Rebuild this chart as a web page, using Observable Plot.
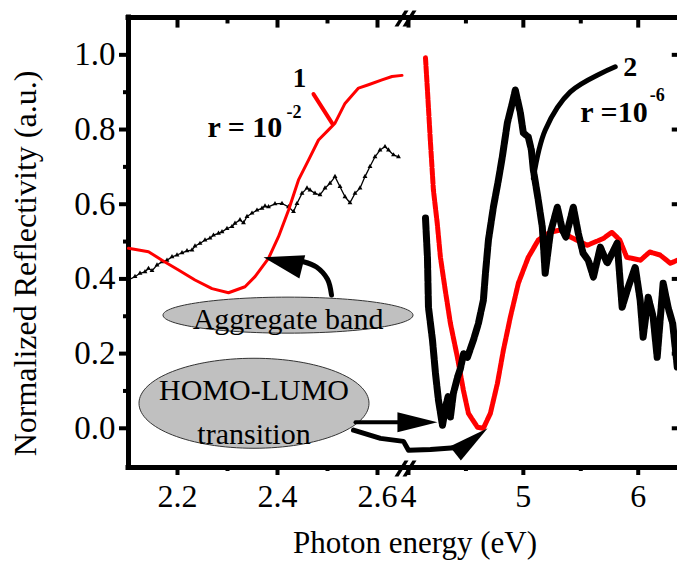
<!DOCTYPE html>
<html>
<head>
<meta charset="utf-8">
<script src="https://cdn.jsdelivr.net/npm/d3@7"></script>
<script src="https://cdn.jsdelivr.net/npm/@observablehq/plot@0.6"></script>
<style>
  html, body { margin: 0; padding: 0; background: #fff; }
  #chart svg { display: block; }
</style>
</head>
<body>
<div id="chart"></div>
<script>
// Normalized reflectivity spectra, curve 1 (r = 10^-2, red) and curve 2 (r = 10^-6, black),
// visible window (2.1–2.65 eV) and UV window (4–6.35 eV) on a broken energy axis.

// Visible window, curve 1 (red)
const visEnergy1 = [2.102, 2.142, 2.169, 2.202, 2.235, 2.269, 2.302, 2.335, 2.355, 2.382, 2.402, 2.422, 2.442, 2.462, 2.482, 2.502, 2.515, 2.535, 2.562, 2.582, 2.609, 2.629, 2.649];
const visRefl1   = [0.482, 0.473, 0.450, 0.424, 0.397, 0.374, 0.363, 0.379, 0.406, 0.455, 0.513, 0.584, 0.665, 0.718, 0.772, 0.799, 0.817, 0.870, 0.911, 0.920, 0.933, 0.942, 0.945];

// Visible window, curve 2 (black)
const visEnergy2 = [2.102, 2.115, 2.125, 2.135, 2.142, 2.149, 2.159, 2.169, 2.179, 2.189, 2.199, 2.209, 2.219, 2.229, 2.235, 2.245, 2.255, 2.265, 2.272, 2.282, 2.289, 2.299, 2.309, 2.315, 2.325, 2.332, 2.339, 2.349, 2.359, 2.369, 2.375, 2.382, 2.395, 2.409, 2.422, 2.432, 2.439, 2.449, 2.459, 2.465, 2.475, 2.485, 2.495, 2.505, 2.515, 2.525, 2.535, 2.545, 2.555, 2.565, 2.575, 2.585, 2.595, 2.605, 2.615, 2.622, 2.632, 2.642];
const visRefl2   = [0.397, 0.406, 0.415, 0.419, 0.428, 0.422, 0.437, 0.446, 0.450, 0.459, 0.464, 0.470, 0.475, 0.477, 0.488, 0.495, 0.504, 0.509, 0.517, 0.522, 0.526, 0.535, 0.540, 0.549, 0.558, 0.550, 0.567, 0.576, 0.584, 0.589, 0.595, 0.593, 0.601, 0.602, 0.593, 0.580, 0.602, 0.629, 0.643, 0.638, 0.629, 0.625, 0.643, 0.656, 0.674, 0.647, 0.620, 0.604, 0.629, 0.643, 0.674, 0.701, 0.727, 0.745, 0.754, 0.745, 0.732, 0.727];

// UV window, curve 1 (red)
const uvEnergy1 = [4.148, 4.165, 4.190, 4.217, 4.250, 4.278, 4.320, 4.365, 4.426, 4.478, 4.522, 4.600, 4.652, 4.713, 4.774, 4.826, 4.887, 4.957, 5.043, 5.130, 5.230, 5.320, 5.410, 5.557, 5.700, 5.770, 5.840, 5.900, 6.020, 6.100, 6.190, 6.280, 6.340];
const uvRefl1   = [0.992, 0.906, 0.772, 0.638, 0.550, 0.458, 0.370, 0.281, 0.190, 0.102, 0.040, 0.003, 0.000, 0.040, 0.120, 0.209, 0.298, 0.389, 0.458, 0.504, 0.525, 0.531, 0.512, 0.490, 0.509, 0.525, 0.504, 0.458, 0.450, 0.472, 0.464, 0.442, 0.450];

// UV window, curve 2 (black)
const uvEnergy2 = [4.148, 4.165, 4.174, 4.209, 4.235, 4.261, 4.296, 4.325, 4.345, 4.365, 4.391, 4.430, 4.452, 4.480, 4.513, 4.565, 4.609, 4.652, 4.670, 4.696, 4.739, 4.783, 4.817, 4.861, 4.904, 4.930, 4.974, 5.000, 5.043, 5.070, 5.087, 5.130, 5.165, 5.190, 5.235, 5.296, 5.340, 5.370, 5.435, 5.478, 5.520, 5.565, 5.610, 5.670, 5.730, 5.817, 5.860, 5.913, 5.974, 6.017, 6.043, 6.087, 6.130, 6.165, 6.217, 6.260, 6.300, 6.340];
const uvRefl2   = [0.563, 0.458, 0.324, 0.236, 0.147, 0.075, 0.008, 0.060, 0.085, 0.030, 0.094, 0.140, 0.160, 0.200, 0.190, 0.236, 0.281, 0.343, 0.415, 0.504, 0.592, 0.665, 0.727, 0.818, 0.871, 0.906, 0.845, 0.791, 0.780, 0.745, 0.692, 0.611, 0.539, 0.415, 0.523, 0.592, 0.531, 0.512, 0.592, 0.523, 0.469, 0.450, 0.405, 0.485, 0.442, 0.496, 0.324, 0.378, 0.432, 0.343, 0.244, 0.351, 0.298, 0.190, 0.389, 0.324, 0.281, 0.164];

// Axis extents and ticks
const xVisDomain = [2.102, 2.656];
const xUvDomain = [3.974, 6.342];
const yDomain = [-0.105, 1.10];
const xMajorTicks = [2.2, 2.4, 2.6, 4, 5, 6];
const xMinorTicks = [2.3, 2.5, 4.5, 5.5];
const yMajorTicks = [0, 0.2, 0.4, 0.6, 0.8, 1.0];
const yMinorTicks = [0.1, 0.3, 0.5, 0.7, 0.9];

// Annotation anchors (energy, reflectivity)
const bubbles = [
  {e: 2.421, v: 0.303, text: "Aggregate band", tv: 0.303},
  {e: 2.353, v: 0.067, text: "HOMO-LUMO\ntransition", tv: 0.054}
];
const aggregateArrow = [[2.508, 0.357], [2.500, 0.399], [2.478, 0.432], [2.452, 0.446]];
const aggregateTip = [[2.372, 0.458]];
const straightArrow = [[2.556, 0.016], [2.646, 0.016]];
const straightTip = [[4.252, 0.016]];
const jogArrow = [[2.552, -0.005], [2.606, -0.027], [2.652, -0.035], [4.000, -0.059], [4.191, -0.057], [4.400, -0.052]];
const jogTip = [[4.689, 0.000]];
const leader1 = [[2.472, 0.895], [2.510, 0.815]];
const leader2 = [[5.087, 0.670], [5.191, 0.799], [5.409, 0.901], [5.800, 0.968]];

const rows = (E, R) => E.map((e, i) => ({e, v: R[i]}));
const pts = (P) => P.map(([e, v]) => ({e, v}));

// Inward tick lengths on the top and right edges, in data units
const topTickMajor = 0.027, topTickMinor = 0.016;  // reflectivity units (~10 px / ~6 px)
const rightTick = 0.05;                             // eV in the UV window (~6 px)

// Custom symbols: filled ellipse, filled arrowhead (tip at origin), axis-break strokes
function ellipseSymbol(rx, ry) {
  const k = 0.5523;
  return {draw(ctx) {
    ctx.moveTo(rx, 0);
    ctx.bezierCurveTo(rx, ry * k, rx * k, ry, 0, ry);
    ctx.bezierCurveTo(-rx * k, ry, -rx, ry * k, -rx, 0);
    ctx.bezierCurveTo(-rx, -ry * k, -rx * k, -ry, 0, -ry);
    ctx.bezierCurveTo(rx * k, -ry, rx, -ry * k, rx, 0);
    ctx.closePath();
  }};
}
function arrowHead(len, half, angleDeg) {
  const a = angleDeg * Math.PI / 180, c = Math.cos(a), s = Math.sin(a);
  const p = (x, y) => [x * c - y * s, x * s + y * c];
  return {draw(ctx) {
    ctx.moveTo(...p(0, 0));
    ctx.lineTo(...p(-len, -half));
    ctx.lineTo(...p(-len, half));
    ctx.closePath();
  }};
}
const breakSymbol = {draw(ctx) {
  for (const ox of [-4, 4]) {
    ctx.moveTo(ox - 7, 8);
    ctx.lineTo(ox - 3, 8);
    ctx.lineTo(ox + 7, -8);
    ctx.lineTo(ox + 3, -8);
    ctx.closePath();
  }
}};

const serif = "'Liberation Serif', 'Times New Roman', serif";

const chart = Plot.plot({
  width: 677,
  height: 563,
  marginLeft: 128,
  marginRight: 0,
  marginTop: 17,
  marginBottom: 96,
  style: {fontFamily: serif, background: "#fff", color: "#000", overflow: "visible"},
  x: {type: "linear", domain: [xVisDomain[0], xVisDomain[1], xUvDomain[0], xUvDomain[1]], range: [128, 405, 405, 677], label: null},
  y: {domain: yDomain, label: null},
  marks: [
    // frame
    Plot.ruleX([xVisDomain[0]], {strokeWidth: 5, strokeLinecap: "square"}),
    Plot.ruleY([yDomain[1]], {strokeWidth: 5, strokeLinecap: "square"}),
    Plot.ruleY([yDomain[0]], {strokeWidth: 5, strokeLinecap: "square"}),

    // outward ticks with labels
    Plot.axisY(yMajorTicks, {anchor: "left", tickSize: 9, tickPadding: 4, strokeWidth: 4, fontSize: 33, tickFormat: d => d.toFixed(1), label: null}),
    Plot.axisY(yMinorTicks, {anchor: "left", tickSize: 5, strokeWidth: 4, tickFormat: () => "", label: null}),
    Plot.axisX(xMajorTicks, {anchor: "bottom", tickSize: 8, tickPadding: 9, strokeWidth: 4, fontSize: 32, tickFormat: d => d < 3 ? d.toFixed(1) : String(d), label: null}),
    Plot.axisX(xMinorTicks, {anchor: "bottom", tickSize: 4, strokeWidth: 4, tickFormat: () => "", label: null}),

    // inward ticks on the top and right edges
    Plot.link(xMajorTicks, {x1: d => d, x2: d => d, y1: () => yDomain[1], y2: () => yDomain[1] - topTickMajor, stroke: "#000", strokeWidth: 4}),
    Plot.link(xMinorTicks, {x1: d => d, x2: d => d, y1: () => yDomain[1], y2: () => yDomain[1] - topTickMinor, stroke: "#000", strokeWidth: 4}),
    Plot.link(yMajorTicks, {x1: () => xUvDomain[1] - rightTick, x2: () => xUvDomain[1], y1: d => d, y2: d => d, stroke: "#000", strokeWidth: 4}),

    // axis break
    Plot.dot([{e: xVisDomain[1], v: yDomain[1]}, {e: xVisDomain[1], v: yDomain[0]}], {x: "e", y: "v", symbol: breakSymbol, fill: "#000", stroke: "none", dy: 1}),

    // spectra
    Plot.line(rows(visEnergy2, visRefl2), {x: "e", y: "v", stroke: "#000", strokeWidth: 1.3}),
    Plot.dot(rows(visEnergy2, visRefl2), {x: "e", y: "v", symbol: "triangle", r: 1.8, fill: "#000", stroke: "none"}),
    Plot.line(rows(visEnergy1, visRefl1), {x: "e", y: "v", stroke: "#ff0000", strokeWidth: 3}),
    Plot.line(rows(uvEnergy1, uvRefl1), {x: "e", y: "v", stroke: "#ff0000", strokeWidth: 5, strokeDasharray: "7,1.5"}),
    Plot.line(rows(uvEnergy2, uvRefl2), {x: "e", y: "v", stroke: "#000", strokeWidth: 7, strokeDasharray: "11,2"}),

    // labelled bubbles
    Plot.dot([bubbles[0]], {x: "e", y: "v", symbol: ellipseSymbol(125, 18), fill: "#c0c0c0", stroke: "#333", strokeWidth: 1}),
    Plot.dot([bubbles[1]], {x: "e", y: "v", symbol: ellipseSymbol(115, 45), fill: "#c0c0c0", stroke: "#333", strokeWidth: 1}),
    Plot.text(bubbles, {x: "e", y: "tv", text: "text", fontSize: 30, lineHeight: 1.45, fill: "#000"}),

    // arrows
    Plot.line(pts(aggregateArrow), {x: "e", y: "v", stroke: "#000", strokeWidth: 5, curve: "catmull-rom"}),
    Plot.dot(pts(aggregateTip), {x: "e", y: "v", symbol: arrowHead(40, 12, 194), fill: "#000", stroke: "none"}),
    Plot.line(pts(straightArrow), {x: "e", y: "v", stroke: "#000", strokeWidth: 4}),
    Plot.dot(pts(straightTip), {x: "e", y: "v", symbol: arrowHead(40, 10, 0), fill: "#000", stroke: "none"}),
    Plot.line(pts(jogArrow), {x: "e", y: "v", stroke: "#000", strokeWidth: 5}),
    Plot.dot(pts(jogTip), {x: "e", y: "v", symbol: arrowHead(41, 9, -38), fill: "#000", stroke: "none"}),

    // curve labels
    Plot.line(pts(leader1), {x: "e", y: "v", stroke: "#ff0000", strokeWidth: 4}),
    Plot.line(pts(leader2), {x: "e", y: "v", stroke: "#000", strokeWidth: 5, curve: "catmull-rom"}),
    Plot.text(["1"], {x: 2.444, y: 0.936, text: d => d, fontSize: 27, fontWeight: "bold"}),
    Plot.text(["r = 10"], {x: 2.260, y: 0.805, text: d => d, fontSize: 30, fontWeight: "bold", textAnchor: "start"}),
    Plot.text(["-2"], {x: 2.418, y: 0.845, text: d => d, fontSize: 18, fontWeight: "bold", textAnchor: "start"}),
    Plot.text(["2"], {x: 5.930, y: 0.968, text: d => d, fontSize: 28, fontWeight: "bold"}),
    Plot.text(["r =10"], {x: 5.496, y: 0.845, text: d => d, fontSize: 30, fontWeight: "bold", textAnchor: "start"}),
    Plot.text(["-6"], {x: 6.100, y: 0.893, text: d => d, fontSize: 18, fontWeight: "bold", textAnchor: "start"}),

    // axis titles
    Plot.text(["Photon energy (eV)"], {frameAnchor: "bottom", text: d => d, textAnchor: "middle", lineAnchor: "middle", dx: 12, dy: 76, fontSize: 31}),
    Plot.text(["Normalized Reflectivity (a.u.)"], {frameAnchor: "left", text: d => d, textAnchor: "middle", lineAnchor: "middle", rotate: -90, dx: -103, dy: 21, fontSize: 32})
  ]
});

document.getElementById("chart").appendChild(chart);
</script>
</body>
</html>
